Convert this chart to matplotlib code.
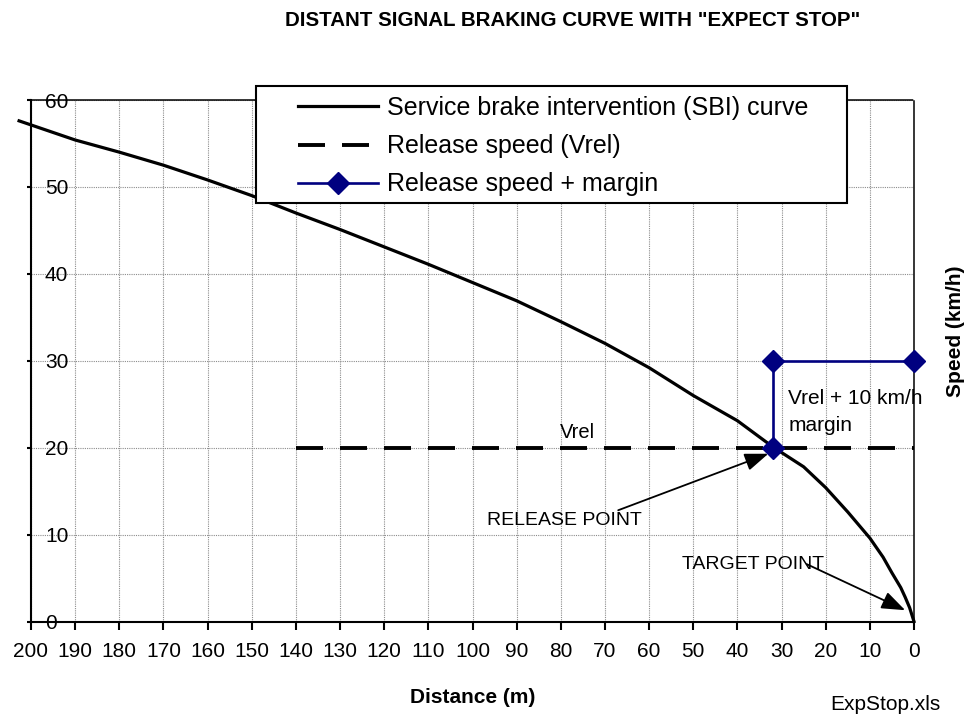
import numpy as np
import matplotlib
matplotlib.use("Agg")
import matplotlib.pyplot as plt
from matplotlib.patches import Rectangle

plt.rcParams['font.family'] = ['Liberation Sans', 'DejaVu Sans']

# SBI curve (distance to target in m, speed in km/h)
sbi_dist = [202.7, 190, 180, 170, 160, 150, 140, 130, 120, 110, 100, 90, 80,
            70, 60, 50, 40, 32, 25, 20, 15, 10, 7, 5, 3, 2, 1, 0]
sbi_speed = [57.6, 55.4, 54.0, 52.5, 50.8, 49.0, 47.0, 45.1, 43.1, 41.1, 39.0,
             36.9, 34.5, 32.0, 29.2, 26.0, 23.1, 20.1, 17.8, 15.4, 12.6, 9.6,
             7.4, 5.6, 3.9, 2.8, 1.6, 0]

# release speed
vrel_dist = [140, 0]
vrel_speed = [20, 20]

# release speed + margin
margin_dist = [32, 32, 0]
margin_speed = [20, 30, 30]

x_ticks = list(range(0, 201, 10))
y_ticks = [0, 10, 20, 30, 40, 50, 60]

navy = '#000080'
W, H = 971, 715

fig = plt.figure(figsize=(9.71, 7.15), dpi=100)
ax = fig.add_axes([31 / W, 1 - 621.5 / H, 883 / W, 521.5 / H])

ax.set_xlim(200, 0)
ax.set_ylim(0, 60)

# grid
ax.set_xticks(x_ticks)
ax.set_yticks(y_ticks)
ax.grid(True, color='#8c8c8c', linestyle=(0, (1, 1)), linewidth=0.8)
ax.set_axisbelow(True)

# series
h1, = ax.plot(sbi_dist, sbi_speed, color='black', lw=2.3, clip_on=False,
              zorder=4)
lw_dash = 2.8
h2, = ax.plot(vrel_dist, vrel_speed, color='black', lw=lw_dash,
              linestyle=(0, (27 * 0.72 / lw_dash, 17 * 0.72 / lw_dash)),
              zorder=3, clip_on=False)
h3, = ax.plot(margin_dist, margin_speed, color=navy, lw=1.9, marker='D',
              ms=11, markeredgecolor=navy, markerfacecolor=navy, zorder=5,
              clip_on=False)

# spines
for side in ['top', 'right']:
    ax.spines[side].set_linestyle((0, (1, 1)))
    ax.spines[side].set_linewidth(1.1)
ax.spines['left'].set_linewidth(1.5)
ax.spines['bottom'].set_linewidth(1.5)

ax.tick_params(axis='x', direction='out', length=6, width=1.5, labelsize=15,
               pad=9)
ax.tick_params(axis='y', direction='out', length=3, width=1.5, labelsize=15,
               pad=-13)
ax.set_xticklabels([str(v) for v in x_ticks])
for t in ax.get_yticklabels():
    t.set_horizontalalignment('left')

ax.set_xlabel('Distance (m)', fontsize=15, fontweight='bold', labelpad=19)

# annotations
ax.text(80.2, 21.7, 'Vrel', fontsize=14.5, ha='left', va='center')
ax.text(28.5, 25.7, 'Vrel + 10 km/h', fontsize=15, ha='left', va='center')
ax.text(28.5, 22.5, 'margin', fontsize=15, ha='left', va='center')
ax.text(96.7, 11.6, 'RELEASE POINT', fontsize=14, ha='left', va='center')
ax.text(52.6, 6.6, 'TARGET POINT', fontsize=14, ha='left', va='center')

arrow = dict(arrowstyle='-|>,head_length=0.8,head_width=0.3',
             color='black', lw=1.3, mutation_scale=18, shrinkA=0, shrinkB=0)
ax.annotate('', xy=(33, 19.3), xytext=(67, 12.8), arrowprops=arrow)
ax.annotate('', xy=(2.0, 1.3), xytext=(24.3, 6.6), arrowprops=arrow)

# legend box (drawn by hand so it can have Excel's proportions)
box = Rectangle((256 / W, 1 - 203 / H), 591 / W, 117 / H,
                transform=fig.transFigure, facecolor='white',
                edgecolor='black', linewidth=1.5, zorder=5)
fig.add_artist(box)
leg = fig.legend([h1, h2, h3],
                 ['Service brake intervention (SBI) curve',
                  'Release speed (Vrel)', 'Release speed + margin'],
                 loc='upper left', bbox_to_anchor=(298 / W, 1 - 96 / H),
                 fontsize=18, frameon=False, borderpad=0, borderaxespad=0,
                 handlelength=3.2, handletextpad=0.36, labelspacing=0.57)
leg.set_zorder(6)

fig.text(573 / W, 1 - 20 / H,
         'DISTANT SIGNAL BRAKING CURVE WITH "EXPECT STOP"',
         fontsize=14.8, fontweight='bold', ha='center', va='center')
fig.text(955 / W, 1 - 331 / H, 'Speed (km/h)', fontsize=15,
         fontweight='bold', rotation=90, ha='center', va='center')
fig.text(940 / W, 1 - 705 / H, 'ExpStop.xls', fontsize=15,
         ha='right', va='center')

fig.savefig('out.png', dpi=100)
